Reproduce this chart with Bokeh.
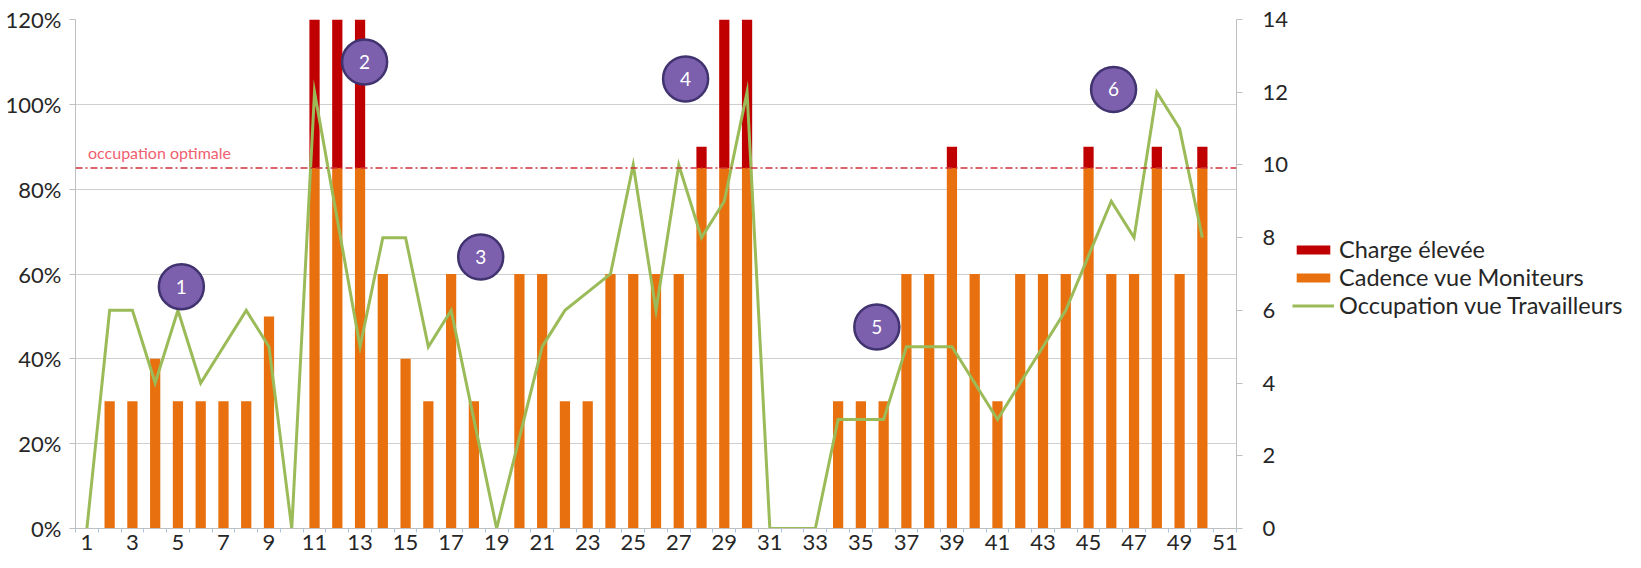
from bokeh.plotting import figure
from bokeh.layouts import row
from bokeh.models import (ColumnDataSource, Range1d, LinearAxis, FixedTicker, Span,
                          Legend, LegendItem, PrintfTickFormatter)
from bokeh.core.properties import value
from bokeh.embed import file_html
from bokeh.resources import INLINE

# ---- data ----
categories = list(range(1, 52))
cadence = [0, 30, 30, 40, 30, 30, 30, 30, 50, 0,
           85, 85, 85, 60, 40, 30, 60, 30, 0, 60,
           60, 30, 30, 60, 60, 60, 60, 85, 85, 85,
           0, 0, 0, 30, 30, 30, 60, 60, 85, 60,
           30, 60, 60, 60, 85, 60, 60, 85, 60, 85,
           0]
charge = [0, 0, 0, 0, 0, 0, 0, 0, 0, 0,
          35, 35, 35, 0, 0, 0, 0, 0, 0, 0,
          0, 0, 0, 0, 0, 0, 0, 5, 35, 35,
          0, 0, 0, 0, 0, 0, 0, 0, 5, 0,
          0, 0, 0, 0, 5, 0, 0, 5, 0, 5,
          0]
occ_x = list(range(1, 51))
occupation = [0, 6, 6, 4, 6, 4, 5, 6, 5, 0,
              12, 8.5, 5, 8, 8, 5, 6, 3, 0, 2.5,
              5, 6, 6.5, 7, 10, 6, 10, 8, 9, 12,
              0, 0, 0, 3, 3, 3, 5, 5, 5, 4,
              3, 4, 5, 6, 7.5, 9, 8, 12, 11, 8]
optimal = 85
optimal_label = "occupation  optimale"
marker_ids = ["1", "2", "3", "4", "5", "6"]
marker_x = [5.15, 13.2, 18.3, 27.3, 35.7, 46.1]
marker_y = [57, 110, 64, 106, 47.5, 103.5]
left_ticks = [0, 20, 40, 60, 80, 100, 120]
right_ticks = [0, 2, 4, 6, 8, 10, 12, 14]
x_label_ticks = list(range(1, 52, 2))
legend_labels = ["Charge élevée", "Cadence vue Moniteurs", "Occupation vue Travailleurs"]

FONT = "Lato"
TXT = "#262626"
RED = "#C00000"
ORANGE = "#E8700E"
GREEN = "#9BBB59"
H = 562
W_MAIN = 1291
W_LEG = 1625 - W_MAIN

p = figure(width=W_MAIN, height=H, output_backend="svg", toolbar_location=None,
           x_range=Range1d(0.5, 51.5), y_range=Range1d(0, 120),
           min_border_left=75, min_border_right=53, min_border_top=19,
           min_border_bottom=34)
p.extra_y_ranges = {"right": Range1d(0, 14)}
p.outline_line_color = None
p.background_fill_color = "white"

# grid
p.xgrid.visible = False
p.ygrid.ticker = FixedTicker(ticks=left_ticks)
p.ygrid.grid_line_color = "#CFCFCF"
p.ygrid.grid_line_width = 1.2

# bars
bar_src = ColumnDataSource(dict(x=categories, cad=cadence))
p.vbar(x="x", top="cad", bottom=0, width=0.45, source=bar_src,
       fill_color=ORANGE, line_color=None)
red_idx = [i for i, h in enumerate(charge) if h > 0]
red_src = ColumnDataSource(dict(x=[categories[i] for i in red_idx],
                                bottom=[cadence[i] for i in red_idx],
                                top=[cadence[i] + charge[i] for i in red_idx]))
p.vbar(x="x", top="top", bottom="bottom", width=0.45, source=red_src,
       fill_color=RED, line_color=None)

# line
p.line(occ_x, occupation, y_range_name="right", line_color=GREEN,
       line_width=3, line_join="miter")

# optimal line
p.add_layout(Span(location=optimal, dimension="width", line_color="#D0303C",
                  line_width=1.6, line_dash="7 3 2 3"))
p.text(x=[1.05], y=[86.3], text=[optimal_label], text_color="#F06070",
       text_font=value(FONT), text_font_size="16px", text_baseline="bottom",
       text_align="left")

# numbered markers
p.scatter(marker_x, marker_y, size=45, marker="circle", fill_color="#7C60AE",
          line_color="#41336F", line_width=2.5)
p.text(x=marker_x, y=marker_y, text=marker_ids, text_color="white",
       text_font=value(FONT), text_font_size="19px", text_align="center",
       text_baseline="middle")

# axes
xa = p.xaxis[0]
xa.ticker = FixedTicker(ticks=x_label_ticks,
                        minor_ticks=[c - 0.5 for c in categories] + [51.5])
xa.axis_line_color = "#BFBFBF"
xa.major_tick_line_color = None
xa.major_tick_out = 0
xa.major_tick_in = 0
xa.minor_tick_line_color = "#A9C4E4"
xa.minor_tick_out = 4
xa.minor_tick_in = 0
xa.major_label_standoff = 2
xa.major_label_text_font = FONT
xa.major_label_text_font_size = "22px"
xa.major_label_text_color = TXT

ya = p.yaxis[0]
ya.ticker = FixedTicker(ticks=left_ticks)
ya.formatter = PrintfTickFormatter(format="%d%%")
ya.axis_line_color = "#BFBFBF"
ya.major_tick_line_color = "#BFBFBF"
ya.major_tick_out = 6
ya.major_tick_in = 0
ya.minor_tick_line_color = None
ya.major_label_standoff = 8
ya.major_label_text_font = FONT
ya.major_label_text_font_size = "22px"
ya.major_label_text_color = TXT

ra = LinearAxis(y_range_name="right", ticker=FixedTicker(ticks=right_ticks))
ra.axis_line_color = "#BFBFBF"
ra.major_tick_line_color = "#BFBFBF"
ra.major_tick_out = 6
ra.major_tick_in = 0
ra.minor_tick_line_color = None
ra.major_label_standoff = 20
ra.major_label_text_font = FONT
ra.major_label_text_font_size = "22px"
ra.major_label_text_color = TXT
p.add_layout(ra, "right")

# legend in a companion figure (keeps the legend outside the plot frame)
lf = figure(width=W_LEG, height=H, output_backend="svg", toolbar_location=None,
            x_range=Range1d(0, 1), y_range=Range1d(0, 1),
            x_axis_type=None, y_axis_type=None, min_border=0)
lf.outline_line_color = None
lf.grid.visible = False
proxy = ColumnDataSource(dict(x=[0.5, 0.6], y=[0.5, 0.6], top=[0.6, 0.6]))
l_ch = lf.vbar(x="x", top="top", bottom=0.5, width=0.01, source=proxy,
               fill_color=RED, line_color=None, visible=False)
l_cad = lf.vbar(x="x", top="top", bottom=0.5, width=0.01, source=proxy,
                fill_color=ORANGE, line_color=None, visible=False)
l_occ = lf.line(x="x", y="y", source=proxy, line_color=GREEN, line_width=3,
                visible=False)
legend = Legend(items=[LegendItem(label=legend_labels[0], renderers=[l_ch]),
                       LegendItem(label=legend_labels[1], renderers=[l_cad]),
                       LegendItem(label=legend_labels[2], renderers=[l_occ])],
                location=(1, 209), orientation="vertical")
legend.background_fill_alpha = 0
legend.border_line_color = None
legend.inactive_fill_alpha = 0
legend.padding = 0
legend.margin = 0
legend.spacing = 0
legend.glyph_width = 42
legend.glyph_height = 11
legend.label_height = 23
legend.label_standoff = 5
legend.label_text_font = FONT
legend.label_text_font_size = "23.5px"
legend.label_text_color = TXT
lf.add_layout(legend, "center")

open("out.html", "w").write(file_html(row(p, lf), INLINE))
